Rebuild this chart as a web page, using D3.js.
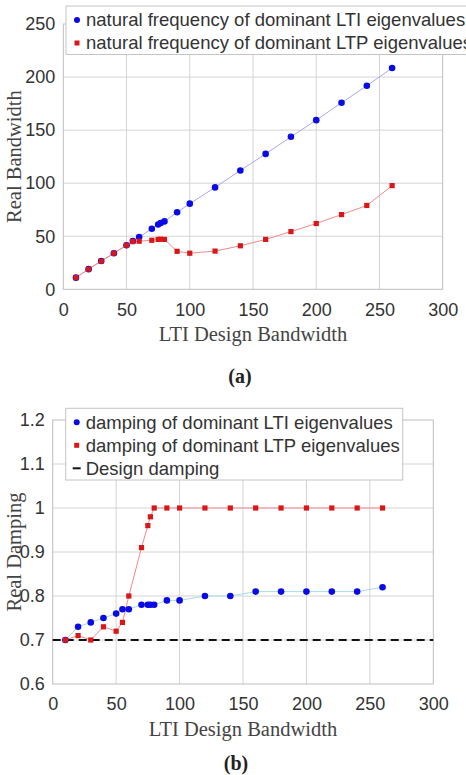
<!DOCTYPE html>
<html>
<head>
<meta charset="UTF-8" />
<script src="https://cdn.jsdelivr.net/npm/d3@7"></script>
<style>
  body { margin: 0; background: #fff; }
  svg { display: block; }
</style>
</head>
<body>
<svg id="fig" width="466" height="775"></svg>
<script>
// design bandwidths (shared x values)
const bandwidth = [10, 20, 30, 40, 50, 55, 60, 70, 75, 77, 80, 90, 100, 120, 140, 160, 180, 200, 220, 240, 260];

// panel (a): natural frequency
const freqLTI = [11, 19, 26.7, 34, 41.5, 45.5, 49.3, 57, 61, 62.5, 64, 72.6, 80.7, 96, 112, 127.6, 143.7, 159.4, 175.8, 191.8, 208.5];
const freqLTP = [11, 19, 26.5, 34, 41.5, 45, 45.3, 46.2, 47, 47.2, 47, 35.8, 34, 36, 41, 47, 54.4, 62, 70.4, 79, 97.7];

// panel (b): damping
const dampLTI = [0.70, 0.73, 0.74, 0.75, 0.76, 0.77, 0.77, 0.78, 0.78, 0.78, 0.78, 0.79, 0.79, 0.80, 0.80, 0.81, 0.81, 0.81, 0.81, 0.81, 0.82];
const dampLTP = [0.70, 0.71, 0.70, 0.73, 0.72, 0.74, 0.80, 0.91, 0.96, 0.98, 1, 1, 1, 1, 1, 1, 1, 1, 1, 1, 1];
const designDamping = 0.7;

const xTicks = [0, 50, 100, 150, 200, 250, 300];
const yTicksA = [0, 50, 100, 150, 200, 250];
const yTicksB = [0.6, 0.7, 0.8, 0.9, 1.0, 1.1, 1.2];

const legendA = ["natural frequency of dominant LTI eigenvalues", "natural frequency of dominant LTP eigenvalues"];
const legendB = ["damping of dominant LTI eigenvalues", "damping of dominant LTP eigenvalues", "Design damping"];

const blue = "#0a0ae6", red = "#d81818";
const svg = d3.select("#fig");

function panel(opt) {
  const x = d3.scaleLinear().domain([0, 300]).range(opt.xr);
  const y = d3.scaleLinear().domain(opt.yd).range(opt.yr);
  const g = svg.append("g");

  // grid
  g.append("g").selectAll("line").data(xTicks.slice(1, -1)).join("line")
    .attr("x1", d => x(d)).attr("x2", d => x(d))
    .attr("y1", opt.yr[0]).attr("y2", opt.yr[1])
    .attr("stroke", "#d4d4d4").attr("stroke-width", 1);
  g.append("g").selectAll("line").data(opt.yTicks.slice(1, -1)).join("line")
    .attr("x1", opt.xr[0]).attr("x2", opt.xr[1])
    .attr("y1", d => y(d)).attr("y2", d => y(d))
    .attr("stroke", "#d4d4d4").attr("stroke-width", 1);

  // frame
  g.append("rect")
    .attr("x", opt.xr[0]).attr("y", opt.yr[1])
    .attr("width", opt.xr[1] - opt.xr[0]).attr("height", opt.yr[0] - opt.yr[1])
    .attr("fill", "none").attr("stroke", "#bdbdbd").attr("stroke-width", 1);

  // axes
  const xa = g.append("g").attr("transform", `translate(0,${opt.yr[0]})`)
    .call(d3.axisBottom(x).tickValues(xTicks).tickSize(0).tickPadding(opt.xPad).tickFormat(d3.format("d")));
  const ya = g.append("g").attr("transform", `translate(${opt.xr[0]},0)`)
    .call(d3.axisLeft(y).tickValues(opt.yTicks).tickSize(0).tickPadding(8).tickFormat(opt.yFmt));
  [xa, ya].forEach(a => {
    a.select(".domain").remove();
    a.selectAll("text").attr("font-family", "Liberation Sans, Arial, sans-serif")
      .attr("font-size", 18).attr("fill", "#333");
  });

  // axis titles
  g.append("text").attr("x", (opt.xr[0] + opt.xr[1]) / 2).attr("y", opt.yr[0] + 52)
    .attr("text-anchor", "middle").attr("font-family", "Liberation Serif, Times New Roman, serif")
    .attr("font-size", 20.5).attr("fill", "#444").text("LTI Design Bandwidth");
  g.append("text")
    .attr("transform", `translate(21,${(opt.yr[0] + opt.yr[1]) / 2}) rotate(-90)`)
    .attr("text-anchor", "middle").attr("font-family", "Liberation Serif, Times New Roman, serif")
    .attr("font-size", 20.5).attr("fill", "#444").text(opt.yLabel);

  // reference line
  if (opt.ref !== undefined) {
    g.append("line").attr("x1", x(0)).attr("x2", x(300))
      .attr("y1", y(opt.ref)).attr("y2", y(opt.ref))
      .attr("stroke", "#111").attr("stroke-width", 2.2).attr("stroke-dasharray", "8,5");
  }

  // series
  const line = d3.line().x((d, i) => x(bandwidth[i])).y(d => y(d));
  g.append("path").datum(opt.lti).attr("d", line)
    .attr("fill", "none").attr("stroke", opt.ltiLine).attr("stroke-width", 1);
  g.append("path").datum(opt.ltp).attr("d", line)
    .attr("fill", "none").attr("stroke", "#f28a8a").attr("stroke-width", 1);
  g.append("g").selectAll("circle").data(opt.lti).join("circle")
    .attr("cx", (d, i) => x(bandwidth[i])).attr("cy", d => y(d))
    .attr("r", 3.3).attr("fill", blue);
  g.append("g").selectAll("rect").data(opt.ltp).join("rect")
    .attr("x", (d, i) => x(bandwidth[i]) - 2.6).attr("y", d => y(d) - 2.6)
    .attr("width", 5.2).attr("height", 5.2).attr("fill", red);

  // legend
  const lg = g.append("g");
  lg.append("rect").attr("x", opt.lx).attr("y", opt.ly)
    .attr("width", opt.lw).attr("height", opt.lh)
    .attr("fill", "#fff").attr("stroke", "#c4c4c4").attr("stroke-width", 1);
  opt.legend.forEach((t, i) => {
    const cy = opt.ly + 14 + i * 23;
    if (i === 0) lg.append("circle").attr("cx", opt.lx + 11).attr("cy", cy).attr("r", 3).attr("fill", blue);
    else if (i === 1) lg.append("rect").attr("x", opt.lx + 8.5).attr("y", cy - 2.5).attr("width", 5).attr("height", 5).attr("fill", red);
    else lg.append("line").attr("x1", opt.lx + 7).attr("x2", opt.lx + 15).attr("y1", cy).attr("y2", cy)
      .attr("stroke", "#111").attr("stroke-width", 2);
    lg.append("text").attr("x", opt.lx + 20).attr("y", cy).attr("dy", "0.35em")
      .attr("font-family", "Liberation Sans, Arial, sans-serif").attr("font-size", 18.5)
      .attr("fill", "#333").text(t);
  });

  // caption
  svg.append("text").attr("x", opt.capX).attr("y", opt.capY)
    .attr("text-anchor", "middle").attr("font-family", "Liberation Serif, Times New Roman, serif")
    .attr("font-weight", "bold").attr("font-size", 20).attr("fill", "#222").text(opt.caption);
}

panel({
  xr: [63.3, 442.7], yr: [289.3, 24], yd: [0, 250], yTicks: yTicksA, yFmt: d3.format("d"), xPad: 14,
  yLabel: "Real Bandwidth", lti: freqLTI, ltp: freqLTP, ltiLine: "#a8a8f4",
  legend: legendA, lx: 66, ly: 6, lw: 420, lh: 48.5, caption: "(a)", capX: 240, capY: 383
});
panel({
  xr: [52.7, 433.3], yr: [684, 420], yd: [0.6, 1.2], yTicks: yTicksB, yFmt: d => d3.format("")(+d.toFixed(1)), xPad: 13,
  yLabel: "Real Damping", lti: dampLTI, ltp: dampLTP, ltiLine: "#a6dcea", ref: designDamping,
  legend: legendB, lx: 65.7, ly: 408.3, lw: 337, lh: 71.7, caption: "(b)", capX: 236, capY: 770
});
</script>
</body>
</html>
